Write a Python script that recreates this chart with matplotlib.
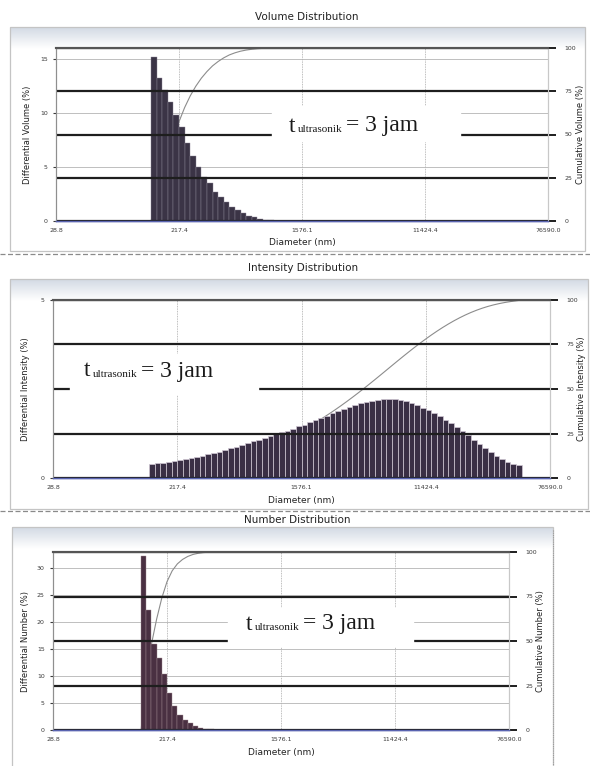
import numpy as np
import matplotlib.pyplot as plt
from matplotlib.patches import Rectangle
from matplotlib.colors import LinearSegmentedColormap

W, H = 590, 766

# === Sumbu diameter (log) ===
x_min, x_max = 28.8, 76590.0
n_bins = 88
first_bin = 17
tick_labels = ["28.8", "217.4", "1576.1", "11424.4", "76590.0"]

# === Data distribusi ===
volume_pct = [15.2, 13.2, 12.1, 11.0, 9.8, 8.7, 7.2, 6.0, 5.0, 4.1, 3.5, 2.7,
              2.25, 1.8, 1.3, 1.0, 0.7, 0.5, 0.35, 0.22, 0.12, 0.06, 0.03]

intensity_pct = [0.38, 0.41, 0.43, 0.45, 0.48, 0.51, 0.54, 0.57, 0.60, 0.63,
                 0.67, 0.70, 0.74, 0.78, 0.83, 0.88, 0.93, 0.98, 1.03, 1.08,
                 1.13, 1.18, 1.23, 1.28, 1.33, 1.39, 1.45, 1.50, 1.56, 1.62,
                 1.68, 1.75, 1.82, 1.88, 1.94, 2.00, 2.05, 2.10, 2.14, 2.17,
                 2.20, 2.22, 2.22, 2.21, 2.19, 2.15, 2.11, 2.05, 1.98, 1.91,
                 1.83, 1.74, 1.64, 1.54, 1.43, 1.32, 1.20, 1.08, 0.96, 0.84,
                 0.73, 0.62, 0.52, 0.44, 0.39, 0.36]

number_pct = [32.2, 22.2, 15.9, 13.4, 10.3, 6.9, 4.4, 2.8, 1.9, 1.25, 0.75,
              0.45, 0.25, 0.12]

bin_edges = np.geomspace(x_min, x_max, n_bins + 1)
xticks = np.geomspace(x_min, x_max, len(tick_labels))

fig = plt.figure(figsize=(W / 100, H / 100), dpi=100)

# latar (bingkai hasil scan), koordinat piksel
bg = fig.add_axes([0, 0, 1, 1], zorder=-5)
bg.set_xlim(0, W)
bg.set_ylim(H, 0)
bg.axis('off')

ov = fig.add_axes([0, 0, 1, 1], zorder=20)
ov.set_xlim(0, W)
ov.set_ylim(H, 0)
ov.axis('off')

grad = np.linspace(0, 1, 40).reshape(-1, 1)
grad_cmap = LinearSegmentedColormap.from_list('g', ['#d3dae4', '#ffffff'])


def frame(x0, y0, x1, y1, band):
    bg.imshow(grad, cmap=grad_cmap, extent=(x0, x1, y0 + band, y0),
              aspect='auto', zorder=0)
    bg.add_patch(Rectangle((x0, y0), x1 - x0, y1 - y0, fill=False,
                           edgecolor='#c4c4c4', lw=0.9, zorder=1))


frame(10, 27, 585, 251, 22)
frame(10, 279, 588, 509, 22)
frame(12, 527, 553, 780, 22)
bg.plot([0, W], [254, 254], color='#8a8a8a', lw=0.9, ls=(0, (4, 2)))
bg.plot([0, W], [511, 511], color='#8a8a8a', lw=0.9, ls=(0, (4, 2)))
bg.plot([553, 553], [530, 766], color='#9a9a9a', lw=0.8, ls=(0, (1, 1)))


def fig_box(l, t, r, b):
    return [l / W, 1 - b / H, (r - l) / W, (b - t) / H]


def panel(box, heights, ymax, yticks, name, bar_color, edge_color, edge_lw,
          title, title_xy, ylab_x, rlab_x):
    l, t, r, b = box
    ax = fig.add_axes(fig_box(*box))
    ax2 = ax.twinx()
    edges = bin_edges[first_bin:first_bin + len(heights) + 1]
    ax.bar(edges[:-1], heights, width=np.diff(edges), align='edge',
           color=bar_color, edgecolor=edge_color, linewidth=edge_lw, zorder=2)
    cum = np.concatenate([[0], np.cumsum(heights)])
    cum = cum / cum[-1]
    ax.plot(edges, cum, transform=ax.get_xaxis_transform(), color='#8c8c8c',
            lw=0.8, zorder=1)

    ax.set_xscale('log')
    ax.set_xlim(x_min, x_max)
    ax.set_xticks(xticks)
    ax.set_xticklabels(tick_labels)
    ax.minorticks_off()
    ax.set_ylim(0, ymax)
    ax.set_yticks(yticks)
    ax.set_axisbelow(True)
    ax.grid(axis='y', color='#b4b4b4', lw=0.6)
    ax.grid(axis='x', color='#a8a8a8', lw=0.6, ls=(0, (1, 1)))
    ax.tick_params(axis='both', labelsize=4.5, colors='#3a3a3a', length=2,
                   pad=4)
    ax.tick_params(axis='x', length=0, pad=5)

    ax2.set_ylim(0, 100)
    ax2.set_yticks([0, 25, 50, 75, 100])
    ax2.grid(axis='y', color='#1e1e1e', lw=1.6)
    ax2.tick_params(axis='y', labelsize=4.5, colors='#3a3a3a', length=6,
                    width=1.4, pad=6)
    ax2.tick_params(axis='y', color='#1e1e1e')

    for a in (ax, ax2):
        a.spines['left'].set_color('#8f8f8f')
        a.spines['right'].set_color('#c8c8c8')
        a.spines['bottom'].set_color('#5a64b0')
        a.spines['bottom'].set_linewidth(1.0)
        a.spines['top'].set_color('#555555')
        a.spines['top'].set_linewidth(1.5)

    ax.set_xlabel('Diameter (nm)', fontsize=6.5, color='#222222')
    ax.xaxis.set_label_coords(0.5, -22 / (b - t))
    ax.xaxis.label.set_va('center')
    ax.set_ylabel('Differential ' + name + ' (%)', fontsize=6, color='#222222')
    ax.yaxis.set_label_coords((ylab_x - l) / (r - l), 0.5)
    ax2.set_ylabel('Cumulative ' + name + ' (%)', fontsize=6, color='#222222')
    ax2.yaxis.set_label_coords((rlab_x - l) / (r - l), 0.5)
    ax.yaxis.label.set_va('center')
    ax2.yaxis.label.set_va('center')

    ov.text(title_xy[0], title_xy[1], title, fontsize=7.5, color='#222222',
            ha='center', va='center')


panel((56, 48, 548, 221), volume_pct, 16, [0, 5, 10, 15], 'Volume',
      '#3b3446', '#8c8696', 0.3, 'Volume Distribution', (307, 17), 28, 580)
panel((53, 300, 550, 478), intensity_pct, 5, [0, 5], 'Intensity',
      '#3a2f45', '#d0c8d4', 0.5, 'Intensity Distribution', (303, 268), 26, 581)
panel((53, 552, 509, 730), number_pct, 33, [0, 5, 10, 15, 20, 25, 30], 'Number',
      '#4a3042', '#a08890', 0.3, 'Number Distribution', (297, 520), 26, 540)

# kotak label waktu ultrasonik: "t" + subskrip kecil + "= 3 jam"
serif = 'Liberation Serif'
for (x0, y0, x1, y1), (tx, ty) in [((272, 106, 460, 141), (289, 126)),
                                   ((70, 354, 258, 394), (84, 371)),
                                   ((228, 608, 413, 646), (246, 624))]:
    ov.add_patch(Rectangle((x0, y0), x1 - x0, y1 - y0, color='white', zorder=1))
    t_txt = ov.text(tx, ty, 't', fontsize=17, family=serif, color='#1a1a1a',
                    ha='left', va='center', zorder=2)
    sub = ov.annotate('ultrasonik', xy=(1, 0), xycoords=t_txt,
                      xytext=(1.5, 1.5), textcoords='offset points',
                      fontsize=8, family=serif, color='#1a1a1a',
                      ha='left', va='bottom', zorder=2)
    ov.annotate('= 3 jam', xy=(1, 0), xycoords=(sub, t_txt),
                xytext=(2.5, 0), textcoords='offset points',
                fontsize=17, family=serif, color='#1a1a1a',
                ha='left', va='bottom', zorder=2)

fig.savefig('out.png', dpi=100)
